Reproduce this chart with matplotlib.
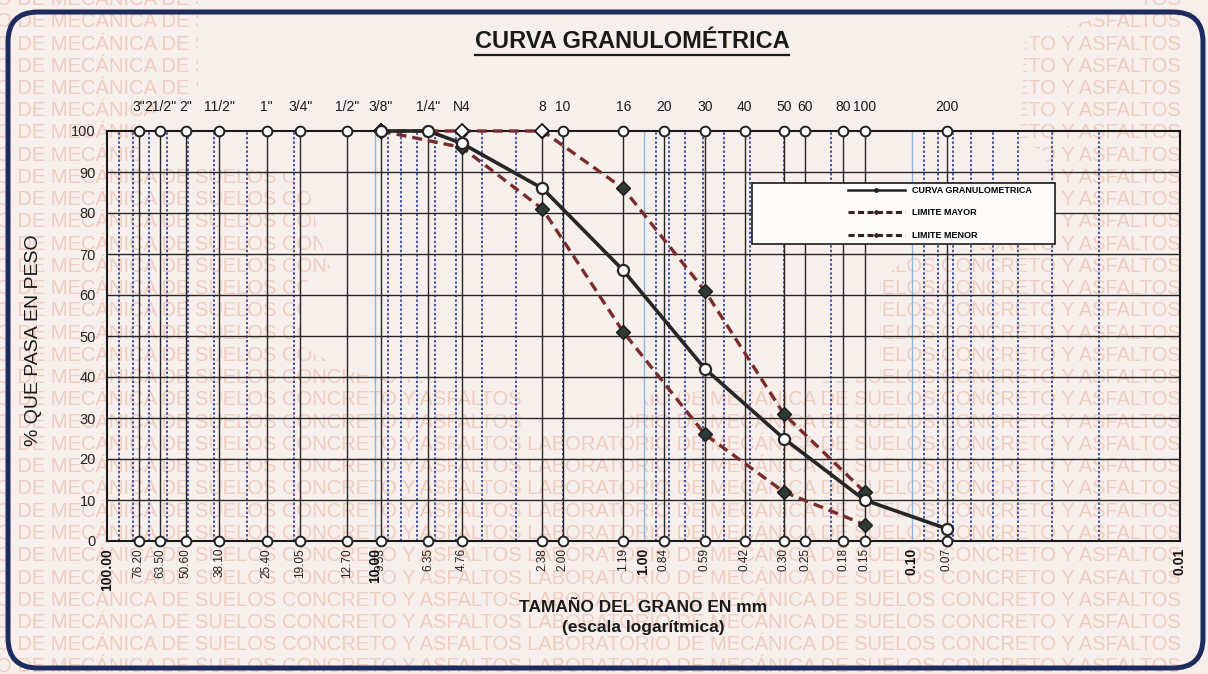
import matplotlib.pyplot as plt
from matplotlib.lines import Line2D
from matplotlib.patches import FancyBboxPatch, Polygon, Rectangle
from matplotlib.transforms import IdentityTransform
import numpy as np

plt.rcParams['font.family'] = ['Liberation Sans', 'DejaVu Sans']

W, H = 1208, 674
BG = '#f7efeb'

# tamices: abertura en mm, nombre arriba, rótulo abajo
sieve_mm = [76.20, 63.50, 50.80, 38.10, 25.40, 19.05, 12.70, 9.53, 6.35, 4.76,
            2.38, 2.00, 1.19, 0.84, 0.59, 0.42, 0.30, 0.25, 0.18, 0.15, 0.074]
sieve_names = ['3"', '21/2"', '2"', '11/2"', '1"', '3/4"', '1/2"', '3/8"', '1/4"', 'N4',
               '8', '10', '16', '20', '30', '40', '50', '60', '80', '100', '200']
sieve_labels = ['76.20', '63.50', '50.60', '38.10', '25.40', '19.05', '12.70', '9.53',
                '6.35', '4.76', '2.38', '2.00', '1.19', '0.84', '0.59', '0.42', '0.30',
                '0.25', '0.18', '0.15', '0.07']
decades = [100, 10, 1, 0.1, 0.01]
decade_labels = ['100.00', '10.00', '1.00', '0.10', '0.01']

# curvas
curva_mm = [9.53, 6.35, 4.76, 2.38, 1.19, 0.59, 0.30, 0.15, 0.074]
curva_pct = [100, 100, 97, 86, 66, 42, 25, 10, 3]
mayor_mm = [9.53, 4.76, 2.38, 1.19, 0.59, 0.30, 0.15]
mayor_pct = [100, 100, 100, 86, 61, 31, 12]
menor_mm = [9.53, 4.76, 2.38, 1.19, 0.59, 0.30, 0.15]
menor_pct = [100, 96, 81, 51, 26, 12, 4]

legend_names = ['CURVA GRANULOMETRICA', 'LIMITE MAYOR', 'LIMITE MENOR']

watermark = 'O DE MECÁNICA DE SUELOS CONCRETO Y ASFALTOS LABORATORIO DE MECÁNICA DE SUELOS CONCRETO Y ASFALTOS'


def px(x, y):
    # pixel (y hacia abajo) -> pantalla
    return x, H - y


fig = plt.figure(figsize=(W / 100, H / 100), dpi=100, facecolor=BG)

# marca de agua de fondo
for i in range(31):
    yy = -0.5 + 22.25 * i
    fig.text(-4 / W, 1 - yy / H, watermark, fontsize=14.5, color='#efcdc0',
             ha='left', va='center', zorder=-3)

clear_zone = [(198, -5), (1140, -5), (1140, 6), (1090, 20), (1025, 38), (1020, 140),
              (1045, 152), (1055, 215), (1040, 242), (910, 255), (880, 282), (880, 378),
              (650, 395), (615, 432), (525, 432), (520, 392), (350, 372), (300, 346),
              (300, 287), (330, 268), (320, 240), (310, 195), (292, 172), (140, 165),
              (135, 125), (168, 105), (198, 90)]
fig.add_artist(Polygon([px(a, b) for a, b in clear_zone], closed=True, facecolor=BG,
                       edgecolor='none', transform=IdentityTransform(), zorder=-2))

# marco redondeado
fig.add_artist(FancyBboxPatch(px(8, 668), 1195, 656, boxstyle='round,pad=0,rounding_size=30',
                              facecolor='none', edgecolor='#1e2b5e', lw=3.6,
                              transform=IdentityTransform(), zorder=1))

ax = fig.add_axes([107 / W, 133 / H, 1073 / W, 410 / H])
ax.set_facecolor('none')
ax.set_xscale('log')
ax.set_xlim(100, 0.01)
ax.set_ylim(0, 100)
ax.xaxis.set_major_locator(plt.NullLocator())
ax.xaxis.set_minor_locator(plt.NullLocator())
ax.set_yticks(range(0, 101, 10))
ax.tick_params(axis='y', length=0, pad=8, labelsize=10.5, labelcolor='#222222')
for s in ax.spines.values():
    s.set_color('#1a1a1a')
    s.set_linewidth(1.5)

# cuadrícula
minor = [k * 10.0 ** n for n in range(-2, 2) for k in range(2, 10)]
ax.vlines(minor, 0, 100, colors='#3346a0', linestyles=(0, (1.3, 1.2)), lw=1.3, zorder=1)
ax.vlines(decades[1:-1], 0, 100, colors='#8bb8dc', lw=1.0, zorder=1)
ax.vlines(sieve_mm, 0, 100, colors='#262626', lw=1.0, zorder=2)
ax.hlines(range(10, 100, 10), 100, 0.01, colors='#262626', lw=1.0, zorder=2)

# marcadores de tamices arriba y abajo
for yv in (100, 0):
    ax.plot(sieve_mm, [yv] * len(sieve_mm), 'o', ms=7, mfc='white', mec='#222222',
            mew=1.4, clip_on=False, zorder=6)

# curvas
ax.plot(curva_mm, curva_pct, '-', color='#262626', lw=2.6, marker='o', ms=8,
        mfc='white', mec='#262626', mew=1.6, clip_on=False, zorder=9)
for mm, pct in ((mayor_mm, mayor_pct), (menor_mm, menor_pct)):
    mm = np.array(mm)
    pct = np.array(pct)
    ax.plot(mm, pct, color='#7a2c2c', lw=2.4, ls=(0, (3, 1.8)), marker='D', ms=7,
            mfc='#2e3a33', mec='#1a1a1a', mew=1.0, clip_on=False, zorder=8)
    top = pct == 100
    ax.plot(mm[top], pct[top], 'D', ms=7, mfc='white', mec='#1a1a1a', mew=1.3,
            clip_on=False, zorder=8.5)

# rótulos de tamices
for mm, name in zip(sieve_mm, sieve_names):
    ax.annotate(name, xy=(mm, 100), xytext=(0, 17), textcoords='offset points',
                ha='center', va='center', fontsize=10, color='#1a1a1a')
for mm, lab in zip(sieve_mm, sieve_labels):
    ax.annotate(lab, xy=(mm, 0), xytext=(0, -5), textcoords='offset points',
                ha='center', va='top', rotation=90, fontsize=8.5, color='#222222')
for d, lab in zip(decades, decade_labels):
    ax.annotate(lab, xy=(d, 0), xytext=(0, -5), textcoords='offset points',
                ha='center', va='top', rotation=90, fontsize=10, weight='bold',
                color='#111111', annotation_clip=False)

ax.set_ylabel('% QUE PASA EN PESO', fontsize=14, color='#1a1a1a')
ax.yaxis.set_label_coords(-0.0606, 0.49)
ax.set_xlabel('TAMAÑO DEL GRANO EN mm\n(escala logarítmica)', fontsize=12.5,
              weight='bold', color='#1a1a1a', linespacing=1.35)
ax.xaxis.set_label_coords(0.5, -0.145)
ax.xaxis.label.set_va('top')

# leyenda
ax.add_patch(Rectangle((0.601, 0.724), 0.2825, 0.149, transform=ax.transAxes,
                       facecolor='#fdfcfb', edgecolor='#1a1a1a', lw=1.2, zorder=4.5))
handles = [Line2D([], [], color='#222222', lw=1.8, marker='o', ms=2.5),
           Line2D([], [], color='#3a2020', lw=2.2, ls=(0, (2, 1.1)), marker='D', ms=2),
           Line2D([], [], color='#3a2020', lw=2.2, ls=(0, (2, 1.1)), marker='D', ms=2)]
leg = ax.legend(handles, legend_names, loc='upper left', bbox_to_anchor=(0.6906, 0.866),
                frameon=False, handlelength=6.3, handletextpad=0.8, borderpad=0,
                borderaxespad=0, labelspacing=1.5, prop=dict(weight='bold', size=6.5))
leg.set_zorder(6)

title = fig.text(632 / W, 1 - 42 / H, 'CURVA GRANULOMÉTRICA', fontsize=17, weight='bold',
                 ha='center', va='center', color='#1a1a1a')
fig.canvas.draw()
bb = title.get_window_extent()
fig.add_artist(Line2D([bb.x0, bb.x1], [bb.y0 - 1.5, bb.y0 - 1.5], color='#1a1a1a', lw=1.6,
                      transform=IdentityTransform()))

fig.savefig('out.png', dpi=100, facecolor=BG)
